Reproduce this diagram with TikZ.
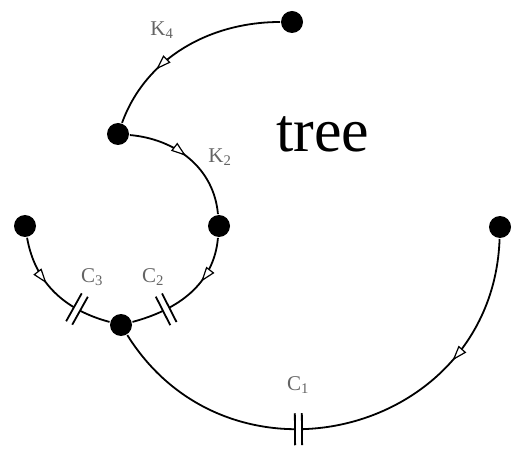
\documentclass[tikz,border=0pt]{standalone}
\usepackage{fontspec}
\setmainfont{Liberation Serif}
\usetikzlibrary{arrows.meta,decorations.markings}
\definecolor{Label}{HTML}{646464}

\begin{document}
\begin{tikzpicture}[x=1pt,y=-1pt,line width=1.8pt,
  dot/.style={circle,fill=black,inner sep=0pt,minimum size=22pt},
  lbl/.style={text=Label,font=\fontsize{21}{21}\selectfont,inner sep=0pt},
  flow/.style={postaction={decorate,decoration={markings,
    mark=at position #1 with {\arrow[line width=1.2pt]{Triangle[fill=white,length=15pt,width=10pt]}}}}},
  capac/.style={postaction={decorate,decoration={markings,
    mark=at position #1 with {\fill[white] (-3.5pt,-5pt) rectangle (3.5pt,5pt);
      \draw (-3.5pt,-16pt) -- (-3.5pt,16pt);
      \draw (3.5pt,-16pt) -- (3.5pt,16pt);}}}}]
  \useasboundingbox (0,0) rectangle (519,462);
  % vertices
  \node[dot] (nTop) at (292,22) {};
  \node[dot] (nUpper) at (118,134) {};
  \node[dot] (nInner) at (219,226) {};
  \node[dot] (nOuter) at (25,226) {};
  \node[dot] (nHub) at (121,325) {};
  \node[dot] (nFar) at (500,227) {};
  % tree branches
  \draw[flow=0.68] (nTop) to[out=180,in=70,looseness=0.95] (nUpper);
  \draw[flow=0.47] (nUpper) to[out=-5,in=95] (nInner);
  % links
  \draw[flow=0.37,capac=0.72] (nInner) to[out=-95,in=15] (nHub);
  \draw[flow=0.4,capac=0.72] (nOuter) to[out=-80,in=165] (nHub);
  \draw[flow=0.26,capac=0.6] (nFar) to[out=-92,in=-58,looseness=1.3] (nHub);
  % labels
  \node[lbl] (k4) at (162,30) {K\textsubscript{4}};
  \node[lbl] (k2) at (220,157) {K\textsubscript{2}};
  \node[lbl] (c3) at (92,277) {C\textsubscript{3}};
  \node[lbl] (c2) at (153,277) {C\textsubscript{2}};
  \node[lbl] (c1) at (298,385) {C\textsubscript{1}};
  \node[font=\fontsize{62}{62}\selectfont,anchor=base,inner sep=0pt] (tree) at (323,152) {tree};
\end{tikzpicture}
\end{document}
